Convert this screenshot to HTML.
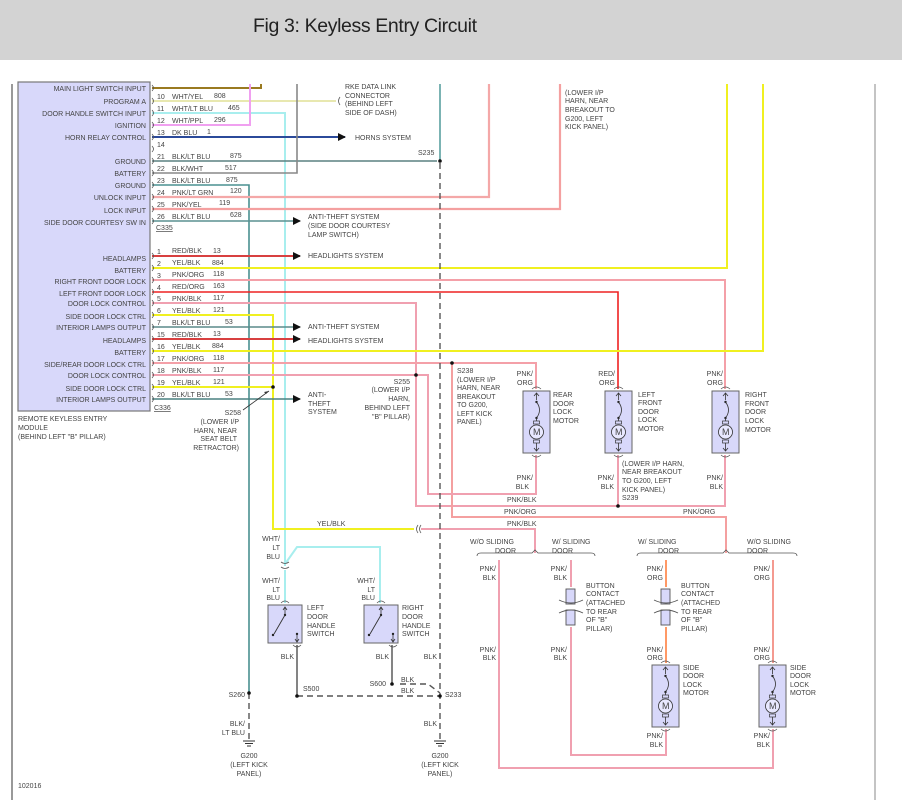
<!DOCTYPE html>
<html><head><meta charset="utf-8"><style>
html,body{margin:0;padding:0;background:#fff;}
svg{display:block;}
text{font-family:"Liberation Sans",sans-serif;font-size:7px;fill:#444;}
.t{font-size:19.5px;fill:#222;}
</style></head><body>
<svg width="902" height="810" viewBox="0 0 902 810" xmlns="http://www.w3.org/2000/svg">
<defs>
<g id="mot">
<rect x="0" y="0" width="27" height="62" fill="#d8d8fa" stroke="#666" stroke-width="1"/>
<path d="M13.5 2 v7 M11 5 l2.5 -3 l2.5 3" stroke="#333" fill="none" stroke-width="0.8"/>
<circle cx="13.5" cy="11" r="1.2" fill="#222"/>
<path d="M13.5 11 q6 8 0 16" stroke="#333" fill="none" stroke-width="0.8"/>
<circle cx="13.5" cy="27" r="1.2" fill="#222"/>
<path d="M13.5 27 v3" stroke="#333" stroke-width="0.8"/>
<rect x="10.5" y="30" width="6" height="3" fill="none" stroke="#333" stroke-width="0.7"/>
<circle cx="13.5" cy="41" r="7" fill="#e8e8ff" stroke="#333" stroke-width="0.8"/>
<rect x="10.5" y="49" width="6" height="3" fill="none" stroke="#333" stroke-width="0.7"/>
<path d="M13.5 52 v8 M11 57 l2.5 3 l2.5 -3" stroke="#333" fill="none" stroke-width="0.8"/>
<path d="M9 -2 q4.5 -4 9 0 M9 64 q4.5 4 9 0" stroke="#555" fill="none" stroke-width="0.8"/>
</g>
<g id="sw">
<rect x="0" y="0" width="34" height="38" fill="#d8d8fa" stroke="#666" stroke-width="1"/>
<path d="M17 2 v8 M15 5 l2 -3 l2 3" stroke="#333" fill="none" stroke-width="0.8"/>
<circle cx="17" cy="10" r="1.2" fill="#222"/>
<path d="M17 10 L6 29" stroke="#333" stroke-width="0.9"/>
<circle cx="5" cy="30" r="1.2" fill="#222"/>
<circle cx="29" cy="29" r="1.2" fill="#222"/>
<path d="M29 29 v8 M27 34 l2 3 l2 -3" stroke="#333" fill="none" stroke-width="0.8"/>
<path d="M13 -2 q4 -4 8 0 M25 40 q4 4 8 0" stroke="#555" fill="none" stroke-width="0.8"/>
</g>
<marker id="ar" markerWidth="8" markerHeight="8" refX="7" refY="4" orient="auto" markerUnits="userSpaceOnUse"><path d="M0 0 L8 4 L0 8 z" fill="#111"/></marker>
</defs>

<rect x="0" y="0" width="902" height="60" fill="#d3d3d3"/>
<text x="253" y="32" class="t" textLength="224">Fig 3: Keyless Entry Circuit</text>

<line x1="12" y1="84" x2="12" y2="800" stroke="#333" stroke-width="1"/>
<line x1="875" y1="84" x2="875" y2="800" stroke="#888" stroke-width="1"/>

<rect x="18" y="82" width="132" height="329" fill="#d8d8fa" stroke="#777" stroke-width="1.2"/>

<!-- module labels -->
<g text-anchor="end">
<text x="146" y="91">MAIN LIGHT SWITCH INPUT</text>
<text x="146" y="104">PROGRAM A</text>
<text x="146" y="116">DOOR HANDLE SWITCH INPUT</text>
<text x="146" y="128">IGNITION</text>
<text x="146" y="140">HORN RELAY CONTROL</text>
<text x="146" y="164">GROUND</text>
<text x="146" y="176">BATTERY</text>
<text x="146" y="188">GROUND</text>
<text x="146" y="200">UNLOCK INPUT</text>
<text x="146" y="213">LOCK INPUT</text>
<text x="146" y="225">SIDE DOOR COURTESY SW IN</text>
<text x="146" y="261">HEADLAMPS</text>
<text x="146" y="273">BATTERY</text>
<text x="146" y="284">RIGHT FRONT DOOR LOCK</text>
<text x="146" y="296">LEFT FRONT DOOR LOCK</text>
<text x="146" y="306">DOOR LOCK CONTROL</text>
<text x="146" y="319">SIDE DOOR LOCK CTRL</text>
<text x="146" y="330">INTERIOR LAMPS OUTPUT</text>
<text x="146" y="343">HEADLAMPS</text>
<text x="146" y="355">BATTERY</text>
<text x="146" y="367">SIDE/REAR DOOR LOCK CTRL</text>
<text x="146" y="378">DOOR LOCK CONTROL</text>
<text x="146" y="391">SIDE DOOR LOCK CTRL</text>
<text x="146" y="402">INTERIOR LAMPS OUTPUT</text>
</g>
<text x="18" y="421">REMOTE KEYLESS ENTRY</text>
<text x="18" y="430">MODULE</text>
<text x="18" y="439">(BEHIND LEFT "B" PILLAR)</text>
<text x="156" y="230" text-decoration="underline">C335</text>
<text x="154" y="410" text-decoration="underline">C336</text>

<!-- wires -->
<g fill="none" stroke-linejoin="miter">
<path d="M152 88 H261 V84" stroke="#9a7a20" stroke-width="2"/>
<path d="M152 101 H336" stroke="#e8e8b0" stroke-width="2"/>
<path d="M152 113 H285 V566" stroke="#a8eeee" stroke-width="2"/>
<path d="M152 125 H250 V84" stroke="#f0a0f0" stroke-width="2"/>
<path d="M152 137 H345" stroke="#2b4a9a" stroke-width="2" marker-end="url(#ar)"/>
<path d="M152 161 H437" stroke="#5a8080" stroke-width="1.6"/>
<path d="M440 84 V160" stroke="#5aa0a0" stroke-width="1.6"/>
<path d="M152 173 H297 V84" stroke="#888" stroke-width="1.6"/>
<path d="M152 185 H249 V693" stroke="#4a9090" stroke-width="1.6"/>
<path d="M152 197 H489 V84" stroke="#f4a8a8" stroke-width="2.2"/>
<path d="M152 209 H560 V84" stroke="#f4a0a0" stroke-width="2.2"/>
<path d="M152 221 H300" stroke="#5a9090" stroke-width="1.6" marker-end="url(#ar)"/>
<path d="M152 256 H300" stroke="#d84040" stroke-width="2" marker-end="url(#ar)"/>
<path d="M152 268 H727 V84" stroke="#f0f020" stroke-width="2"/>
<path d="M152 280 H725 V389" stroke="#f4a0a8" stroke-width="2"/>
<path d="M152 292 H618 V389" stroke="#ee2222" stroke-width="1.6"/>
<path d="M152 303 H416 V506 H725 V455" stroke="#f0a0b0" stroke-width="2"/>
<path d="M152 315 H273 V529 H414" stroke="#f0f020" stroke-width="2"/>
<path d="M152 327 H300" stroke="#5a8a8a" stroke-width="1.6" marker-end="url(#ar)"/>
<path d="M152 339 H300" stroke="#d84040" stroke-width="2" marker-end="url(#ar)"/>
<path d="M152 351 H763 V84" stroke="#f0f020" stroke-width="2"/>
<path d="M152 363 H536 V389" stroke="#f4a0a8" stroke-width="2"/>
<path d="M452 363 V517 H726 V553" stroke="#f4a0a0" stroke-width="2"/>
<path d="M152 375 H428 V494 H536 V455" stroke="#f0a0b0" stroke-width="2"/>
<path d="M618 455 V506" stroke="#f0a0b0" stroke-width="2"/>
<path d="M152 387 H273" stroke="#f0f020" stroke-width="2"/>
<path d="M152 399 H300" stroke="#4a8080" stroke-width="1.6" marker-end="url(#ar)"/>
<path d="M421 529 H535 V553" stroke="#f0a0b0" stroke-width="2"/>
<!-- handle switch feeds -->
<path d="M285 570 V603" stroke="#a8eeee" stroke-width="2"/>
<path d="M285 564 L297 547 H380 V603" stroke="#a8eeee" stroke-width="2"/>
<path d="M297 645 V696" stroke="#666" stroke-width="1.6"/>
<path d="M392 645 V684" stroke="#666" stroke-width="1.6"/>
<!-- dashed grounds -->
<path d="M440 163 V740" stroke="#555" stroke-width="1.4" stroke-dasharray="6,4"/>
<path d="M249 693 V740" stroke="#555" stroke-width="1.4" stroke-dasharray="6,4"/>
<path d="M297 696 H440" stroke="#555" stroke-width="1.4" stroke-dasharray="6,4"/>
<path d="M400 684 H428 L440 693" stroke="#555" stroke-width="1.4" stroke-dasharray="6,4"/>
<!-- sliding door section -->
<path d="M499 560 V768 H773 V729" stroke="#f0a0b0" stroke-width="2"/>
<path d="M571 560 V587 M571 627 V755 H666 V729" stroke="#f0a0b0" stroke-width="2"/>
<path d="M666 560 V587 M666 627 V663" stroke="#ff9966" stroke-width="2"/>
<path d="M773 560 V663" stroke="#f49a90" stroke-width="2"/>
</g>

<!-- pin connector marks -->
<g stroke="#555" fill="none" stroke-width="0.8">
<path d="M152 85 q3 3 0 6 M152 98 q3 3 0 6 M152 110 q3 3 0 6 M152 122 q3 3 0 6 M152 134 q3 3 0 6 M152 146 q3 3 0 6 M152 158 q3 3 0 6 M152 170 q3 3 0 6 M152 182 q3 3 0 6 M152 194 q3 3 0 6 M152 206 q3 3 0 6 M152 218 q3 3 0 6"/>
<path d="M152 253 q3 3 0 6 M152 265 q3 3 0 6 M152 277 q3 3 0 6 M152 289 q3 3 0 6 M152 300 q3 3 0 6 M152 312 q3 3 0 6 M152 324 q3 3 0 6 M152 336 q3 3 0 6 M152 348 q3 3 0 6 M152 360 q3 3 0 6 M152 372 q3 3 0 6 M152 384 q3 3 0 6 M152 396 q3 3 0 6"/>
<path d="M340 97 q-3 4 0 8"/>
<path d="M418 525 q-3 4 0 8 M421 525 q-3 4 0 8"/>
<path d="M281 562 q4 3 8 0 M281 567 q4 3 8 0"/>
<path d="M477 556 q0 -3 4 -3 H532 l3 -3 l3 3 H591 q4 0 4 3"/>
<path d="M637 556 q0 -3 4 -3 H723 l3 -3 l3 3 H793 q4 0 4 3"/>
</g>

<!-- pin texts -->
<g>
<text x="157" y="99">10</text><text x="172" y="99">WHT/YEL</text><text x="214" y="98">808</text>
<text x="157" y="111">11</text><text x="172" y="111">WHT/LT BLU</text><text x="228" y="110">465</text>
<text x="157" y="123">12</text><text x="172" y="123">WHT/PPL</text><text x="214" y="122">296</text>
<text x="157" y="135">13</text><text x="172" y="135">DK BLU</text><text x="207" y="134">1</text>
<text x="157" y="147">14</text>
<text x="157" y="159">21</text><text x="172" y="159">BLK/LT BLU</text><text x="230" y="158">875</text>
<text x="157" y="171">22</text><text x="172" y="171">BLK/WHT</text><text x="225" y="170">517</text>
<text x="157" y="183">23</text><text x="172" y="183">BLK/LT BLU</text><text x="226" y="182">875</text>
<text x="157" y="195">24</text><text x="172" y="195">PNK/LT GRN</text><text x="230" y="193">120</text>
<text x="157" y="207">25</text><text x="172" y="207">PNK/YEL</text><text x="219" y="205">119</text>
<text x="157" y="219">26</text><text x="172" y="219">BLK/LT BLU</text><text x="230" y="217">628</text>
<text x="157" y="254">1</text><text x="172" y="253">RED/BLK</text><text x="213" y="253">13</text>
<text x="157" y="266">2</text><text x="172" y="265">YEL/BLK</text><text x="212" y="265">884</text>
<text x="157" y="278">3</text><text x="172" y="277">PNK/ORG</text><text x="213" y="276">118</text>
<text x="157" y="290">4</text><text x="172" y="289">RED/ORG</text><text x="213" y="288">163</text>
<text x="157" y="301">5</text><text x="172" y="301">PNK/BLK</text><text x="213" y="300">117</text>
<text x="157" y="313">6</text><text x="172" y="313">YEL/BLK</text><text x="213" y="312">121</text>
<text x="157" y="325">7</text><text x="172" y="325">BLK/LT BLU</text><text x="225" y="324">53</text>
<text x="157" y="337">15</text><text x="172" y="337">RED/BLK</text><text x="213" y="336">13</text>
<text x="157" y="349">16</text><text x="172" y="349">YEL/BLK</text><text x="212" y="348">884</text>
<text x="157" y="361">17</text><text x="172" y="361">PNK/ORG</text><text x="213" y="360">118</text>
<text x="157" y="373">18</text><text x="172" y="373">PNK/BLK</text><text x="213" y="372">117</text>
<text x="157" y="385">19</text><text x="172" y="385">YEL/BLK</text><text x="213" y="384">121</text>
<text x="157" y="397">20</text><text x="172" y="397">BLK/LT BLU</text><text x="225" y="396">53</text>
</g>

<!-- destination labels -->
<text x="345" y="89">RKE DATA LINK</text>
<text x="345" y="98">CONNECTOR</text>
<text x="345" y="106">(BEHIND LEFT</text>
<text x="345" y="115">SIDE OF DASH)</text>
<text x="355" y="140">HORNS SYSTEM</text>
<text x="418" y="155">S235</text>
<text x="308" y="219">ANTI-THEFT SYSTEM</text>
<text x="308" y="228">(SIDE DOOR COURTESY</text>
<text x="308" y="237">LAMP SWITCH)</text>
<text x="308" y="258">HEADLIGHTS SYSTEM</text>
<text x="308" y="329">ANTI-THEFT SYSTEM</text>
<text x="308" y="343">HEADLIGHTS SYSTEM</text>
<text x="308" y="397">ANTI-</text>
<text x="308" y="406">THEFT</text>
<text x="308" y="414">SYSTEM</text>
<text x="565" y="95">(LOWER I/P</text>
<text x="565" y="103">HARN, NEAR</text>
<text x="565" y="112">BREAKOUT TO</text>
<text x="565" y="121">G200, LEFT</text>
<text x="565" y="129">KICK PANEL)</text>

<g text-anchor="end">
<text x="410" y="384">S255</text>
<text x="410" y="392">(LOWER I/P</text>
<text x="410" y="401">HARN,</text>
<text x="410" y="410">BEHIND LEFT</text>
<text x="410" y="419">"B" PILLAR)</text>
<text x="241" y="415">S258</text>
<text x="239" y="424">(LOWER I/P</text>
<text x="237" y="433">HARN, NEAR</text>
<text x="237" y="441">SEAT BELT</text>
<text x="239" y="450">RETRACTOR)</text>
</g>
<path d="M243 410 L269 391" stroke="#333" stroke-width="0.8"/>
<path d="M269 391 l-5 1 l2 2 z" fill="#333"/>
<text x="457" y="373">S238</text>
<text x="457" y="382">(LOWER I/P</text>
<text x="457" y="390">HARN, NEAR</text>
<text x="457" y="399">BREAKOUT</text>
<text x="457" y="407">TO G200,</text>
<text x="457" y="416">LEFT KICK</text>
<text x="457" y="424">PANEL)</text>

<!-- dots -->
<g fill="#111">
<circle cx="440" cy="161" r="1.8"/>
<circle cx="416" cy="375" r="1.8"/>
<circle cx="452" cy="363" r="1.8"/>
<circle cx="273" cy="387" r="1.8"/>
<circle cx="618" cy="506" r="1.8"/>
<circle cx="249" cy="693" r="1.8"/>
<circle cx="297" cy="696" r="1.8"/>
<circle cx="392" cy="684" r="1.8"/>
<circle cx="440" cy="696" r="1.8"/>
</g>

<!-- top motors -->
<use href="#mot" x="523" y="391"/>
<use href="#mot" x="605" y="391"/>
<use href="#mot" x="712" y="391"/>
<text x="533" y="435" style="font-size:9px">M</text>
<text x="615" y="435" style="font-size:9px">M</text>
<text x="722" y="435" style="font-size:9px">M</text>
<text x="553" y="397">REAR</text><text x="553" y="406">DOOR</text><text x="553" y="414">LOCK</text><text x="553" y="423">MOTOR</text>
<text x="638" y="397">LEFT</text><text x="638" y="405">FRONT</text><text x="638" y="414">DOOR</text><text x="638" y="422">LOCK</text><text x="638" y="431">MOTOR</text>
<text x="745" y="397">RIGHT</text><text x="745" y="406">FRONT</text><text x="745" y="414">DOOR</text><text x="745" y="423">LOCK</text><text x="745" y="432">MOTOR</text>
<g text-anchor="end">
<text x="533" y="376">PNK/</text><text x="533" y="385">ORG</text>
<text x="615" y="376">RED/</text><text x="615" y="385">ORG</text>
<text x="723" y="376">PNK/</text><text x="723" y="385">ORG</text>
<text x="533" y="480">PNK/</text><text x="529" y="489">BLK</text>
<text x="614" y="480">PNK/</text><text x="614" y="489">BLK</text>
<text x="723" y="480">PNK/</text><text x="723" y="489">BLK</text>
</g>
<text x="622" y="466">(LOWER I/P HARN,</text>
<text x="622" y="474">NEAR BREAKOUT</text>
<text x="622" y="483">TO G200, LEFT</text>
<text x="622" y="492">KICK PANEL)</text>
<text x="622" y="500">S239</text>
<text x="507" y="502">PNK/BLK</text>
<text x="504" y="514">PNK/ORG</text>
<text x="683" y="514">PNK/ORG</text>
<text x="507" y="526">PNK/BLK</text>
<text x="317" y="526">YEL/BLK</text>

<!-- handle switches -->
<use href="#sw" x="268" y="605"/>
<use href="#sw" x="364" y="605"/>
<text x="307" y="610">LEFT</text><text x="307" y="619">DOOR</text><text x="307" y="628">HANDLE</text><text x="307" y="636">SWITCH</text>
<text x="402" y="610">RIGHT</text><text x="402" y="619">DOOR</text><text x="402" y="628">HANDLE</text><text x="402" y="636">SWITCH</text>
<g text-anchor="end">
<text x="280" y="541">WHT/</text><text x="280" y="550">LT</text><text x="280" y="559">BLU</text>
<text x="280" y="583">WHT/</text><text x="280" y="592">LT</text><text x="280" y="600">BLU</text>
<text x="375" y="583">WHT/</text><text x="375" y="592">LT</text><text x="375" y="600">BLU</text>
<text x="294" y="659">BLK</text>
<text x="389" y="659">BLK</text>
<text x="437" y="659">BLK</text>
<text x="245" y="697">S260</text>
<text x="245" y="726">BLK/</text><text x="245" y="735">LT BLU</text>
<text x="386" y="686">S600</text>
<text x="437" y="726">BLK</text>
</g>
<text x="303" y="691">S500</text>
<text x="401" y="682">BLK</text>
<text x="401" y="693">BLK</text>
<text x="445" y="697">S233</text>
<!-- grounds -->
<g stroke="#333" stroke-width="0.9">
<path d="M243 741 h12 M245 743.5 h8 M247 746 h4"/>
<path d="M434 741 h12 M436 743.5 h8 M438 746 h4"/>
</g>
<g text-anchor="middle">
<text x="249" y="758">G200</text><text x="249" y="767">(LEFT KICK</text><text x="249" y="776">PANEL)</text>
<text x="440" y="758">G200</text><text x="440" y="767">(LEFT KICK</text><text x="440" y="776">PANEL)</text>
</g>
<text x="18" y="788">102016</text>

<!-- sliding door -->
<text x="470" y="544">W/O SLIDING</text><text x="495" y="553">DOOR</text>
<text x="552" y="544">W/ SLIDING</text><text x="552" y="553">DOOR</text>
<text x="638" y="544">W/ SLIDING</text><text x="658" y="553">DOOR</text>
<text x="747" y="544">W/O SLIDING</text><text x="747" y="553">DOOR</text>
<g text-anchor="end">
<text x="496" y="571">PNK/</text><text x="496" y="580">BLK</text>
<text x="567" y="571">PNK/</text><text x="567" y="580">BLK</text>
<text x="663" y="571">PNK/</text><text x="663" y="580">ORG</text>
<text x="770" y="571">PNK/</text><text x="770" y="580">ORG</text>
<text x="496" y="652">PNK/</text><text x="496" y="660">BLK</text>
<text x="567" y="652">PNK/</text><text x="567" y="660">BLK</text>
<text x="663" y="652">PNK/</text><text x="663" y="660">ORG</text>
<text x="770" y="652">PNK/</text><text x="770" y="660">ORG</text>
<text x="663" y="738">PNK/</text><text x="663" y="747">BLK</text>
<text x="770" y="738">PNK/</text><text x="770" y="747">BLK</text>
</g>
<!-- button contacts -->
<g stroke="#555" stroke-width="0.9" fill="#d8d8fa">
<rect x="566" y="589" width="9" height="15"/>
<rect x="566" y="610" width="9" height="15"/>
<rect x="661" y="589" width="9" height="15"/>
<rect x="661" y="610" width="9" height="15"/>
<path d="M559 600 q12 6 24 0 M559 613 q12 -6 24 0 M654 600 q12 6 24 0 M654 613 q12 -6 24 0" fill="none"/>
</g>
<text x="586" y="588">BUTTON</text><text x="586" y="596">CONTACT</text><text x="586" y="605">(ATTACHED</text><text x="586" y="614">TO REAR</text><text x="586" y="622">OF "B"</text><text x="586" y="631">PILLAR)</text>
<text x="681" y="588">BUTTON</text><text x="681" y="596">CONTACT</text><text x="681" y="605">(ATTACHED</text><text x="681" y="614">TO REAR</text><text x="681" y="622">OF "B"</text><text x="681" y="631">PILLAR)</text>
<use href="#mot" x="652" y="665"/>
<use href="#mot" x="759" y="665"/>
<text x="662" y="709" style="font-size:9px">M</text>
<text x="769" y="709" style="font-size:9px">M</text>
<text x="683" y="670">SIDE</text><text x="683" y="678">DOOR</text><text x="683" y="687">LOCK</text><text x="683" y="695">MOTOR</text>
<text x="790" y="670">SIDE</text><text x="790" y="678">DOOR</text><text x="790" y="687">LOCK</text><text x="790" y="695">MOTOR</text>
</svg>
</body></html>
